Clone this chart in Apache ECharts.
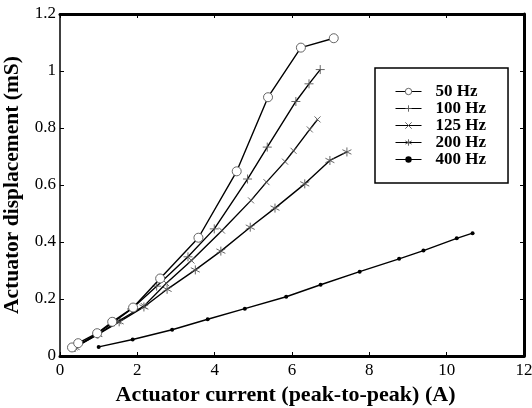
<!DOCTYPE html>
<html>
<head>
<meta charset="utf-8">
<script src="https://cdn.jsdelivr.net/npm/echarts@6/dist/echarts.min.js"></script>
<style>
html,body{margin:0;padding:0;background:#fff;}
#chart{width:532px;height:408px;}
</style>
</head>
<body>
<div id="chart"></div>
<script>
// ---- data ----
const seriesNames = ['50 Hz', '100 Hz', '125 Hz', '200 Hz', '400 Hz'];
const x50  = [0.31, 0.47, 0.96, 1.35, 1.89, 2.59, 3.58, 4.57, 5.38, 6.23, 7.08];
const y50  = [0.030, 0.045, 0.080, 0.120, 0.170, 0.272, 0.415, 0.648, 0.908, 1.082, 1.115];
const x100 = [0.38, 0.95, 1.40, 1.85, 2.50, 3.31, 3.99, 4.85, 5.36, 6.10, 6.44, 6.73];
const y100 = [0.030, 0.078, 0.120, 0.165, 0.245, 0.348, 0.446, 0.621, 0.733, 0.893, 0.955, 1.005];
const x125 = [0.37, 1.00, 1.50, 2.17, 2.75, 3.40, 4.19, 4.94, 5.34, 5.82, 6.04, 6.46, 6.66];
const y125 = [0.030, 0.078, 0.122, 0.175, 0.255, 0.335, 0.440, 0.546, 0.610, 0.682, 0.720, 0.795, 0.830];
const x200 = [0.39, 0.98, 1.53, 2.17, 2.77, 3.50, 4.16, 4.92, 5.56, 6.33, 6.98, 7.42];
const y200 = [0.030, 0.076, 0.120, 0.172, 0.234, 0.302, 0.368, 0.452, 0.519, 0.604, 0.686, 0.716];
const x400 = [1.00, 1.88, 2.90, 3.82, 4.78, 5.85, 6.74, 7.75, 8.77, 9.40, 10.26, 10.67];
const y400 = [0.032, 0.058, 0.092, 0.129, 0.166, 0.208, 0.250, 0.296, 0.341, 0.370, 0.413, 0.431];
const xTicks = [0, 2, 4, 6, 8, 10, 12];
const yTicks = [0, 0.2, 0.4, 0.6, 0.8, 1, 1.2];
const xTitle = 'Actuator current (peak-to-peak) (A)';
const yTitle = 'Actuator displacement (mS)';

// ---- build ----
const pairs = (xs, ys) => xs.map((v, i) => [v, ys[i]]);
const FONT = '"Liberation Serif", "Times New Roman", serif';
const MARK = '#555';
const symbols = [
  'circle',
  'path://M5,0L5,10M0,5L10,5',
  'path://M0,0L10,10M0,10L10,0',
  'path://M5,0L5,10M0.7,2.5L9.3,7.5M0.7,7.5L9.3,2.5',
  'circle'
];
const sizes = [9, 9, 6, 9, 4];
const datas = [pairs(x50, y50), pairs(x100, y100), pairs(x125, y125), pairs(x200, y200), pairs(x400, y400)];
const styles = [
  { color: '#fff', borderColor: MARK, borderWidth: 0.9 },
  { color: MARK, borderColor: MARK, borderWidth: 0.9 },
  { color: MARK, borderColor: MARK, borderWidth: 0.9 },
  { color: MARK, borderColor: MARK, borderWidth: 0.9 },
  { color: '#000', borderColor: '#000', borderWidth: 0 }
];

const series = seriesNames.map((name, i) => ({
  name,
  type: 'line',
  data: datas[i],
  symbol: symbols[i],
  symbolSize: sizes[i],
  showAllSymbol: true,
  lineStyle: { color: '#000', width: 1.4 },
  itemStyle: styles[i],
  emphasis: { disabled: true },
  animation: false,
  z: 5 - i
}));

const axisCommon = {
  type: 'value',
  splitLine: { show: false },
  axisTick: { show: true, inside: true, length: 4, lineStyle: { color: '#000', width: 1 } },
};

const option = {
  animation: false,
  backgroundColor: '#fff',
  grid: { left: 60, right: 8, top: 14, bottom: 52, containLabel: false, outerBoundsMode: 'none' },
  legend: {
    data: seriesNames.map((n, i) => ({ name: n, itemStyle: Object.assign({}, styles[i]) })),
    orient: 'vertical',
    left: 375, top: 68,
    padding: [15, 22, 15, 20],
    itemWidth: 26, itemHeight: 8, itemGap: 0,
    borderColor: '#000', borderWidth: 1.5,
    backgroundColor: '#fff',
    lineStyle: { width: 1, color: '#000' },
    textStyle: { fontFamily: FONT, fontWeight: 'bold', fontSize: 17, lineHeight: 17, color: '#000', padding: [0, 0, 0, 9] },
    selectedMode: false
  },
  xAxis: [
    Object.assign({}, axisCommon, {
      position: 'bottom', min: xTicks[0], max: xTicks[xTicks.length - 1], interval: 2,
      axisLine: { show: true, onZero: false, lineStyle: { color: '#000', width: 3 } },
      axisLabel: { fontFamily: FONT, fontSize: 17, color: '#000', margin: 6 },
      name: xTitle, nameLocation: 'middle', nameGap: 24,
      nameTextStyle: { fontFamily: FONT, fontWeight: 'bold', fontSize: 22, color: '#000', padding: [0, 13, 0, 0] }
    }),
    Object.assign({}, axisCommon, {
      position: 'top', min: xTicks[0], max: xTicks[xTicks.length - 1], interval: 2,
      axisLine: { show: true, onZero: false, lineStyle: { color: '#000', width: 3 } },
      axisLabel: { show: false }
    })
  ],
  yAxis: [
    Object.assign({}, axisCommon, {
      position: 'left', min: yTicks[0], max: yTicks[yTicks.length - 1], interval: 0.2,
      axisLine: { show: true, onZero: false, lineStyle: { color: '#000', width: 1.5 } },
      axisLabel: { fontFamily: FONT, fontSize: 17, color: '#000', margin: 4 },
      name: yTitle, nameLocation: 'middle', nameGap: 24,
      nameTextStyle: { fontFamily: FONT, fontWeight: 'bold', fontSize: 21.5, color: '#000' }
    }),
    Object.assign({}, axisCommon, {
      position: 'right', min: yTicks[0], max: yTicks[yTicks.length - 1], interval: 0.2,
      axisLine: { show: true, onZero: false, lineStyle: { color: '#000', width: 3 } },
      axisLabel: { show: false }
    })
  ],
  series
};

const chart = echarts.init(document.getElementById('chart'), null, { renderer: 'canvas' });
chart.setOption(option);
</script>
</body>
</html>
